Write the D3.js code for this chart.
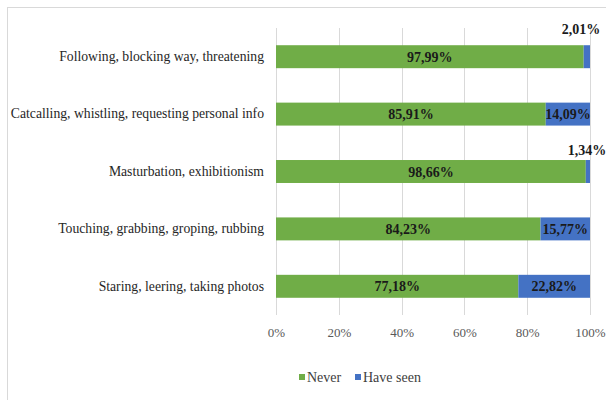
<!DOCTYPE html>
<html>
<head>
<meta charset="utf-8">
<script src="https://cdn.jsdelivr.net/npm/d3@7"></script>
<style>
  html, body { margin: 0; padding: 0; background: #fff; }
  svg { display: block; }
</style>
</head>
<body>
<svg id="chart" width="606" height="400"></svg>
<script>
// Harassment types, top to bottom
const categories = [
  "Following, blocking way, threatening",
  "Catcalling, whistling, requesting personal info",
  "Masturbation, exhibitionism",
  "Touching, grabbing, groping, rubbing",
  "Staring, leering, taking photos"
];
// Share of respondents (%)
const neverValues = [97.99, 85.91, 98.66, 84.23, 77.18];
const seenValues  = [2.01, 14.09, 1.34, 15.77, 22.82];
const seriesNames = ["Never", "Have seen"];
const tickValues = [0, 20, 40, 60, 80, 100];

const colors = { "Never": "#70ad47", "Have seen": "#4472c4" };
const serif = '"Liberation Serif"';

const svg = d3.select("#chart");

// Outer chart frame (runs past the right and bottom edges)
svg.append("rect")
  .attr("x", 7.5).attr("y", 7.5)
  .attr("width", 700).attr("height", 500)
  .attr("fill", "none").attr("stroke", "#d9d9d9").attr("stroke-width", 1);

const plot = { left: 276, right: 590, top: 28, bottom: 315 };

const x = d3.scaleLinear().domain([0, 100]).range([plot.left, plot.right]);
const y = d3.scaleBand().domain(categories)
  .range([plot.top, plot.bottom]).paddingInner(0.6).paddingOuter(0.3);

// Vertical gridlines
svg.append("g").selectAll("line").data(tickValues).join("line")
  .attr("x1", d => Math.round(x(d)) + 0.5).attr("x2", d => Math.round(x(d)) + 0.5)
  .attr("y1", plot.top).attr("y2", plot.bottom)
  .attr("stroke", "#d9d9d9").attr("stroke-width", 1);

// X axis tick labels
const xAxis = d3.axisBottom(x).tickValues(tickValues)
  .tickFormat(d => d + "%").tickSize(0).tickPadding(0);
const gx = svg.append("g").attr("transform", `translate(0, ${plot.bottom + 13})`).call(xAxis);
gx.select(".domain").remove();
gx.selectAll("text")
  .style("font-family", serif).attr("font-size", 13).attr("fill", "#595959");

// Category labels
const yAxis = d3.axisLeft(y).tickSize(0).tickPadding(12);
const gy = svg.append("g").attr("transform", `translate(${plot.left}, 0)`).call(yAxis);
gy.select(".domain").remove();
gy.selectAll("text")
  .style("font-family", serif).attr("font-size", 13.7).attr("fill", "#262626");

// Stacked bars
const rows = categories.map((c, i) => ({ cat: c, Never: neverValues[i], "Have seen": seenValues[i] }));
const stacked = d3.stack().keys(seriesNames)(rows);

const layers = svg.append("g").selectAll("g").data(stacked).join("g")
  .attr("fill", d => colors[d.key]);

layers.selectAll("rect").data(d => d).join("rect")
  .attr("x", d => x(d[0]))
  .attr("y", d => y(d.data.cat))
  .attr("width", d => x(d[1]) - x(d[0]))
  .attr("height", y.bandwidth());

// Value labels: inside the segment when it is wide enough, else above the bar end
const fmt = v => v.toFixed(2).replace(".", ",") + "%";
const outsideShift = { 0: { dx: -9, dy: -11 }, 2: { dx: -3, dy: -5 } };

stacked.forEach(layer => {
  layer.forEach((d, i) => {
    const v = d.data[layer.key];
    const w = x(d[1]) - x(d[0]);
    const yTop = y(d.data.cat);
    let tx, ty;
    if (w >= 30) {
      tx = (x(d[0]) + x(d[1])) / 2;
      ty = yTop + y.bandwidth() / 2 + 5;
    } else {
      const s = outsideShift[i] || { dx: 0, dy: -6 };
      tx = x(d[1]) + s.dx;
      ty = yTop + s.dy;
    }
    svg.append("text")
      .attr("x", tx).attr("y", ty)
      .attr("text-anchor", "middle")
      .style("font-family", serif)
      .attr("font-size", 14)
      .attr("font-weight", "bold")
      .attr("fill", "#1a1a1a")
      .text(fmt(v));
  });
});

// Legend
const legend = svg.append("g").attr("transform", "translate(299, 377)");
const legendX = [0, 56];
seriesNames.forEach((name, i) => {
  const g = legend.append("g").attr("transform", `translate(${legendX[i]}, 0)`);
  g.append("rect").attr("x", 0).attr("y", -3).attr("width", 6).attr("height", 6)
    .attr("fill", colors[name]);
  g.append("text").attr("x", 8).attr("y", 4.5)
    .style("font-family", serif)
    .attr("font-size", 14).attr("fill", "#404040")
    .text(name);
});
</script>
</body>
</html>
